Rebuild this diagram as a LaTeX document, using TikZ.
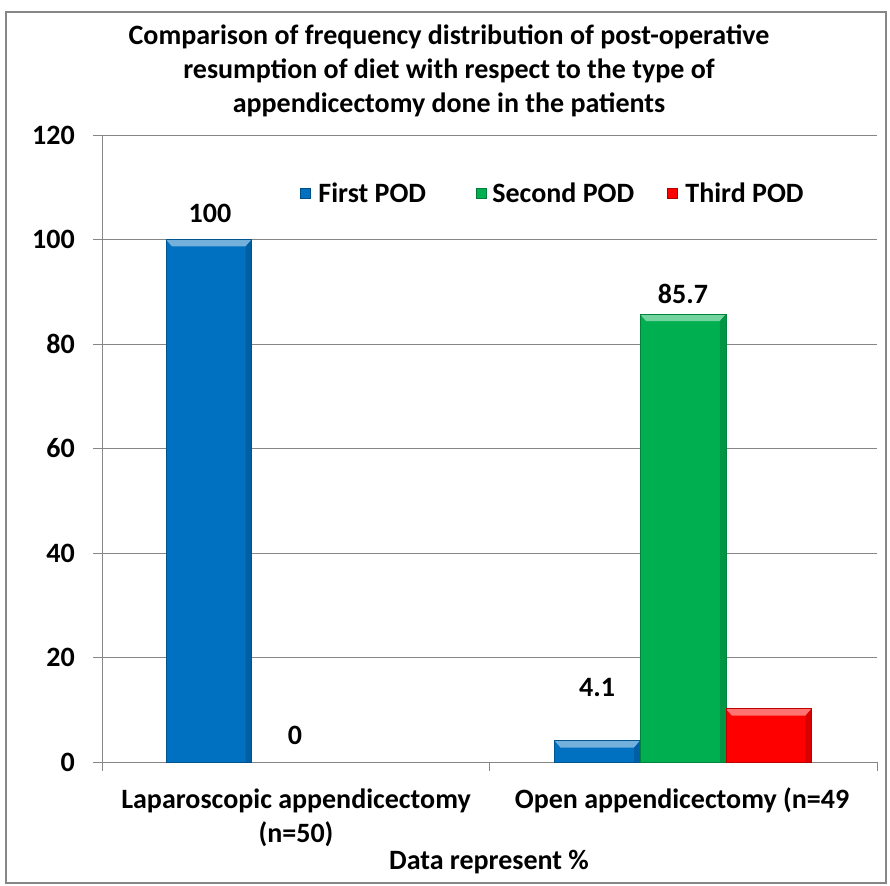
\documentclass[tikz,border=0pt]{standalone}
\usepackage{fontspec}
\setmainfont{Carlito}
\usepackage{tikz}
\usetikzlibrary{
  calc,                  % Coordinate math
  positioning            % Relative placement
}
\definecolor{gridgray}{HTML}{868686}
\definecolor{podblue}{HTML}{0070C0}
\definecolor{podgreen}{HTML}{00B050}
\definecolor{podred}{HTML}{FF0000}
\tikzset{
  lbl/.style={font=\fontsize{28}{34}\selectfont\bfseries, inner sep=0pt},
  swatch/.style={minimum size=10pt, inner sep=0pt, draw=#1!70!black, line width=0.4pt, fill=#1}
}
% bar with a light bevel on top
\newcommand{\podbar}[4]{% x-left, width, value, colour
  \fill[#4] (#1,\yzero) rectangle ++(#2,#3*\yunit);
  \fill[#4!55!white] (#1,\yzero+#3*\yunit) -- ++(#2,0) -- ++(-6,-7) -- ($(#1+6,\yzero+#3*\yunit-7)$) -- cycle;
  \fill[#4!85!black] (#1+#2,\yzero+#3*\yunit) -- ++(-6,-7) -- (#1+#2-6,\yzero) -- (#1+#2,\yzero) -- cycle;
  \draw[#4!75!black, line width=0.5pt] (#1,\yzero) rectangle ++(#2,#3*\yunit);
}

\begin{document}
\begin{tikzpicture}[x=1pt, y=1pt]
          \def\yzero{123}      % Baseline of the plot
          \def\yunit{5.225}    % Points per percent
          \def\xL{102}         % y axis
          \def\xR{877}         % right end of grid
          \def\barw{85.7}      % bar width
          \useasboundingbox (0,0) rectangle (890,885);
          \draw[gridgray, line width=1.2pt] (6,2) rectangle (886,873);
          % grid and tick labels
          \foreach \v in {0,20,...,120}{
            \draw[gridgray, line width=0.8pt] (\xL-9,\yzero+\v*\yunit) -- (\xR,\yzero+\v*\yunit);
            \node[lbl, anchor=east] (tick\v) at (\xL-27,\yzero+\v*\yunit) {\v};
          }
          \draw[gridgray, line width=0.8pt] (\xL,\yzero-9) -- (\xL,\yzero+120*\yunit);
          \draw[gridgray, line width=0.8pt] (489.5,\yzero) -- (489.5,\yzero-9);
          \draw[gridgray, line width=0.8pt] (\xR,\yzero) -- (\xR,\yzero-9);
          % bars
          \podbar{166}{\barw}{100}{podblue}
          \podbar{554.5}{\barw}{4.1}{podblue}
          \podbar{640.2}{\barw}{85.7}{podgreen}
          \podbar{725.9}{\barw}{10.2}{podred}
          % value labels
          \node[lbl] (vlap) at (210,672) {100};
          \node[lbl] (vlapz) at (295,150) {0};
          \node[lbl] (vfirst) at (597,197) {4.1};
          \node[lbl] (vsecond) at (683,591) {85.7};
          % title
          \node[lbl, align=center] (title) at (449,814)
            {Comparison of frequency distribution of post-operative\\resumption of diet with respect to the type of\\appendicectomy done in the patients};
          % legend
          \node[swatch=podblue] (kfirst) at (305,692) {};
          \node[lbl, anchor=west, right=8pt of kfirst] (tfirst) {First POD};
          \node[swatch=podgreen] (ksecond) at (481,692) {};
          \node[lbl, anchor=west, right=6pt of ksecond] (tsecond) {Second POD};
          \node[swatch=podred] (kthird) at (672,692) {};
          \node[lbl, anchor=west, right=8pt of kthird] (tthird) {Third POD};
          % category labels
          \node[lbl, align=center] (catlap) at (296,67) {Laparoscopic appendicectomy\\(n=50)};
          \node[lbl] (catopen) at (682,85) {Open appendicectomy (n=49};
          \node[lbl] (note) at (489,23) {Data represent \%};
        \end{tikzpicture}
\end{document}
